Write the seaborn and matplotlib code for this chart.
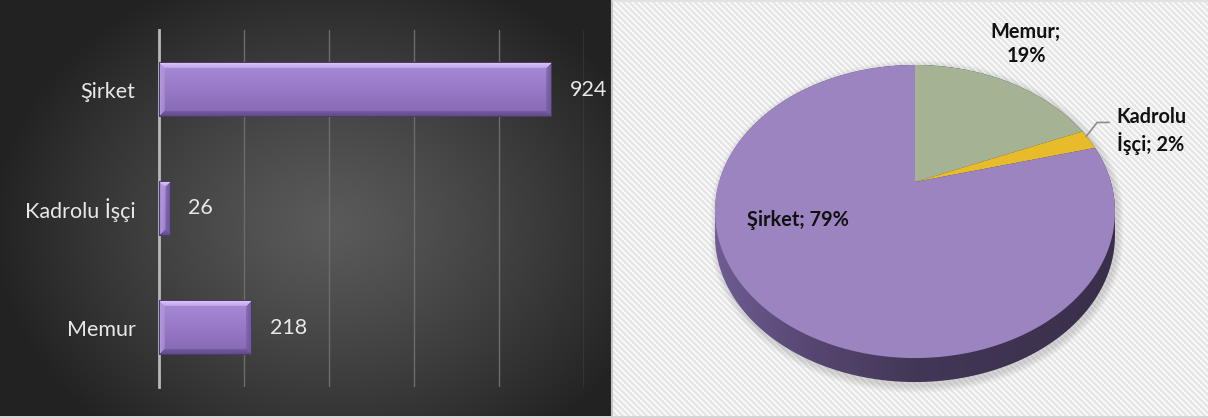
import numpy as np
import matplotlib
matplotlib.use("Agg")
import matplotlib.pyplot as plt
import seaborn as sns
import pandas as pd
from matplotlib.transforms import Transform, Affine2D
from matplotlib.path import Path
from matplotlib.patches import PathPatch
from matplotlib.colors import to_rgb

# ---------------- data ----------------
categories = ["Şirket", "Kadrolu İşçi", "Memur"]
counts = [924, 26, 218]
pie_labels = ["Memur", "Kadrolu\nİşçi", "Şirket"]      # clockwise from 12 o'clock
pie_values = [218, 26, 924]
pie_pct_labels = ["19%", "2%", "79%"]
pie_colors = ["#a5b394", "#e8bb2a", "#9c84c0"]
bar_color = "#9a7ccb"
x_ticks = [0, 200, 400, 600, 800, 1000]

W, H, DPI = 1208, 418, 100

sns.set_theme(style="white")
plt.rcParams['font.family'] = ['Lato', 'DejaVu Sans']

fig = plt.figure(figsize=(W / DPI, H / DPI), dpi=DPI)

# ---------------- backgrounds (pixel coordinates) ----------------
bg = fig.add_axes([0, 0, 1, 1], zorder=0)
LW, LH = 611, 416
yy, xx = np.mgrid[0:LH, 0:LW]
r = np.sqrt(((xx - 330) / 340.0) ** 2 + ((yy - 225) / 270.0) ** 2)
t = np.clip(r, 0, 1) ** 1.2
c0 = np.array(to_rgb("#5a5a5a"))
c1 = np.array(to_rgb("#222222"))
img = c0[None, None, :] * (1 - t[..., None]) + c1[None, None, :] * t[..., None]
bg.imshow(img, extent=[0, LW, LH, 0], interpolation="bilinear")

RX0 = 613
yy, xx = np.mgrid[0:H, 0:W - RX0]
phase = ((xx + RX0 - yy) % 6.0) / 6.0
prof = np.clip(1.6 * np.abs(np.sin(np.pi * phase)) - 0.3, 0, 1)
val = 1.0 - 0.095 * prof
img2 = np.repeat(val[..., None], 3, axis=2)
bg.imshow(img2, extent=[RX0, W, H, 0], interpolation="bilinear")
bg.plot([612, 612], [0, 417], color="#c4c4c4", lw=1.5)
bg.plot([RX0, W], [416.5, 416.5], color="#d6d6d6", lw=1.5)
bg.plot([RX0, W], [1, 1], color="#e2e2e2", lw=1.5)
bg.plot([0, LW], [416.5, 416.5], color="#cfcfcf", lw=1.2)
bg.set_xlim(0, W)
bg.set_ylim(H, 0)
bg.set_aspect("auto")
bg.axis("off")

# ---------------- bar chart ----------------
ax_l, ax_r, ax_t, ax_b = 159, 584, 30, 387
bax = fig.add_axes([ax_l / W, 1 - ax_b / H, (ax_r - ax_l) / W, (ax_b - ax_t) / H], zorder=2)
bax.patch.set_alpha(0)
df = pd.DataFrame({"cat": categories, "n": counts})
sns.barplot(data=df, y="cat", x="n", order=categories, orient="h", width=0.46,
            color=bar_color, saturation=1, ax=bax, errorbar=None, linewidth=0)

px_per_x = (ax_r - ax_l) / 1000.0
px_per_y = (ax_b - ax_t) / 3.0


def bevel_img(wpx, hpx):
    wpx = max(int(round(wpx)), 3)
    hpx = max(int(round(hpx)), 3)
    ys = np.linspace(0, 1, hpx)
    top = np.array(to_rgb("#a98bd9"))
    bot = np.array(to_rgb("#8567b3"))
    col = top[None, :] * (1 - ys[:, None]) + bot[None, :] * ys[:, None]
    im = np.repeat(col[:, None, :], wpx, axis=1)
    Y, X = np.mgrid[0:hpx, 0:wpx]
    D = np.stack([Y, hpx - 1 - Y, X, wpx - 1 - X])
    idx = np.argmin(D, axis=0)
    mind = np.min(D, axis=0)
    b = min(6, wpx / 2.0)
    edge_cols = np.array([to_rgb("#dcc6fb"), to_rgb("#5f4a88"),
                          to_rgb("#b49ae0"), to_rgb("#6e5799")])
    mask = mind < b
    a = np.clip(1 - mind / b * 0.6, 0, 1)[..., None]
    ec = edge_cols[idx]
    im = np.where(mask[..., None], ec * a + im * (1 - a), im)
    outline = mind < 1
    im[outline] = to_rgb("#4b3b6a")
    return im


for p in list(bax.patches):
    p.set_edgecolor("none")
    p.set_linewidth(0)
    x0, y0 = p.get_x(), p.get_y()
    w, h = p.get_width(), p.get_height()
    im = bevel_img(w * px_per_x, h * px_per_y)
    ai = bax.imshow(im, extent=[x0, x0 + w, y0 + h, y0], interpolation="bilinear",
                    zorder=3, aspect="auto")
    ai.set_clip_path(p)

bax.bar_label(bax.containers[0], fmt="%d", padding=13, color="#e8e8e8", fontsize=15.5)

bax.set_xlim(0, 1000)
bax.set_ylim(2.5, -0.5)
bax.set_aspect("auto")
bax.set_xticks(x_ticks)
bax.set_xticklabels([])
bax.set_axisbelow(True)
bax.grid(axis="x", color="#6c6c6c", lw=1)
bax.grid(axis="y", visible=False)
for s in ["top", "right", "bottom"]:
    bax.spines[s].set_visible(False)
bax.spines["left"].set_color("#b8b8b8")
bax.spines["left"].set_linewidth(2)
bax.tick_params(axis="y", length=0, pad=17, labelcolor="#e8e8e8", labelsize=15.5)
bax.tick_params(axis="x", length=0)
bax.set_xlabel("")
bax.set_ylabel("")

# ---------------- 3D pie ----------------
APEX_X, APEX_Y = 915.0, 182.0
K = 0.2014
SY = 140.6
SX = 195.9
DEPTH = 24.0


class Persp(Transform):
    input_dims = 2
    output_dims = 2
    is_separable = False
    has_inverse = False

    def transform_non_affine(self, values):
        v = np.asarray(values, dtype=float)
        x, y = v[:, 0], v[:, 1]
        w = 1.0 + K * y
        return np.column_stack([APEX_X + SX * x / w, APEX_Y - SY * y / w])

    def transform_path_non_affine(self, path):
        S = 400.0
        polys = path.to_polygons(transform=Affine2D().scale(S), closed_only=False)
        verts, codes = [], []
        for poly in polys:
            tp = self.transform_non_affine(np.asarray(poly) / S)
            verts.append(tp)
            codes += [Path.MOVETO] + [Path.LINETO] * (len(tp) - 1)
        return Path(np.concatenate(verts), codes)


persp = Persp()
pax = fig.add_axes([0, 0, 1, 1], zorder=2)
pax.patch.set_alpha(0)

wedges, _ = pax.pie(pie_values, colors=pie_colors, startangle=90, counterclock=False,
                    radius=1, wedgeprops=dict(linewidth=0))
for wd in wedges:
    wd.set_transform(persp + pax.transData)
    wd.set_zorder(5)

# side of the disc and soft shadow
a = np.arcsin(K)
th_up = np.linspace(-a, np.pi + a, 200)
th_lo = np.linspace(np.pi + a, 2 * np.pi - a, 200)
up = persp.transform_non_affine(np.column_stack([np.cos(th_up), np.sin(th_up)]))
lo = persp.transform_non_affine(np.column_stack([np.cos(th_lo), np.sin(th_lo)]))
lo[:, 1] += DEPTH
sil = np.concatenate([up, lo])
for i in range(8, 0, -1):
    sh = sil.copy()
    cx = sil[:, 0].mean(); cy = sil[:, 1].mean()
    sh[:, 0] = cx + (sh[:, 0] - cx) * (1 + i * 0.004) + 2
    sh[:, 1] = cy + (sh[:, 1] - cy) * (1 + i * 0.006) + 3
    pax.add_patch(PathPatch(Path(sh), facecolor="#7a7a7a", edgecolor="none",
                            alpha=0.035, zorder=3))
side_patch = PathPatch(Path(sil), facecolor="none", edgecolor="none", zorder=4)
pax.add_patch(side_patch)
xl, xr = sil[:, 0].min(), sil[:, 0].max()
gx = np.linspace(0, 1, 256)
stops = [(0.0, "#6e5c93"), (0.25, "#554670"), (0.5, "#433756"), (1.0, "#3a2f4b")]
grad = np.zeros((2, 256, 3))
for j in range(3):
    grad[:, :, j] = np.interp(gx, [s[0] for s in stops], [to_rgb(s[1])[j] for s in stops])
gi = pax.imshow(grad, extent=[xl, xr, sil[:, 1].max(), sil[:, 1].min()],
                aspect="auto", zorder=4, interpolation="bilinear")
gi.set_clip_path(side_patch)

# labels
lab_kw = dict(fontsize=14.3, fontweight="bold", color="#111111", ha="center", va="center",
              linespacing=1.3, zorder=7)
pax.text(1026, 44, f"{pie_labels[0]};\n{pie_pct_labels[0]}", **lab_kw)
pax.text(1151, 131, f"{pie_labels[1]}; {pie_pct_labels[1]}", **lab_kw)
pax.text(798, 220, f"{pie_labels[2]}; {pie_pct_labels[2]}", **lab_kw)

kw = wedges[1]
mid = np.deg2rad((kw.theta1 + kw.theta2) / 2.0)
rim = persp.transform_non_affine(np.array([[np.cos(mid), np.sin(mid)]]))[0]
pax.plot([rim[0] - 3, rim[0] + 8, rim[0] + 20], [rim[1] - 3, rim[1] - 17, rim[1] - 17],
         color="#8c8c8c", lw=1.2, zorder=6)

pax.set_aspect("auto")
pax.set_xlim(0, W)
pax.set_ylim(H, 0)
pax.axis("off")

fig.savefig("out.png", dpi=DPI)
